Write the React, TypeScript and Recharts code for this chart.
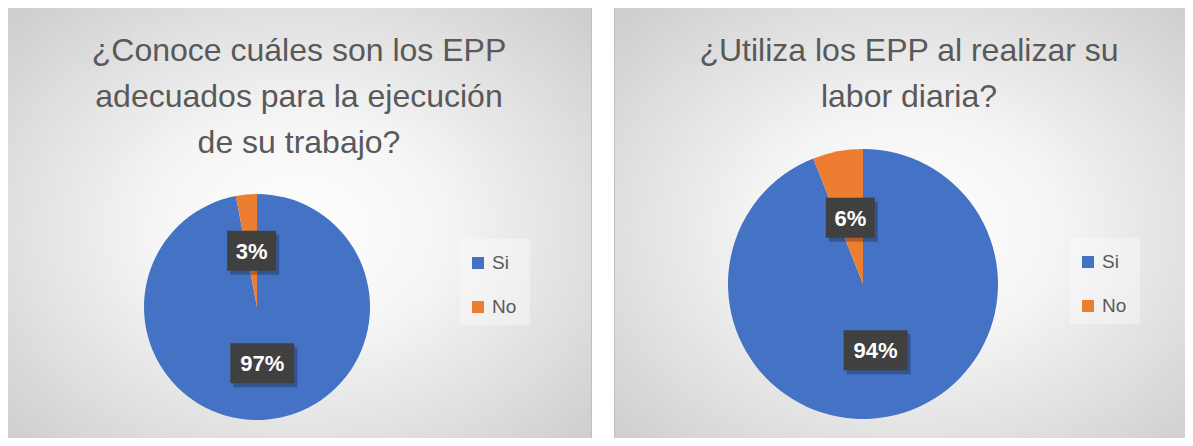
import { PieChart, Pie, Cell, Legend } from "recharts";

const categories = ["Si", "No"];
const conoceValues = [97, 3];
const utilizaValues = [94, 6];
const colors = ["#4472C4", "#ED7D31"];

const conoceTitle = ["¿Conoce cuáles son los EPP", "adecuados para la ejecución", "de su trabajo?"];
const utilizaTitle = ["¿Utiliza los EPP al realizar su", "labor diaria?"];

const RAD = Math.PI / 180;
const font = "Liberation Sans, Arial, sans-serif";

function renderLabel(props: any) {
    const { cx, cy, midAngle, outerRadius, value } = props;
    const r = outerRadius * 0.5;
    const x = cx + r * Math.cos(-midAngle * RAD);
    const y = cy + r * Math.sin(-midAngle * RAD);
    const txt = value + "%";
    const w = txt.length > 2 ? 64 : 49;
    const h = 40;
    return (
        <g>
            <rect x={x - w / 2 + 3} y={y - h / 2 + 4} width={w} height={h} fill="rgba(0,0,0,0.25)" />
            <rect x={x - w / 2} y={y - h / 2} width={w} height={h} fill="#404040" />
            <text x={x} y={y + 8} textAnchor="middle" fill="#ffffff"
                style={{ fontFamily: font, fontSize: 22, fontWeight: 700 }}>
                {txt}
            </text>
        </g>
    );
}

function LegendBox() {
    return (
        <div style={{ width: 70, height: 86, background: "rgba(255,255,255,0.35)", fontFamily: font, fontSize: 19, color: "#595959", position: "relative" }}>
            {categories.map((c, i) => (
                <div key={c} style={{ position: "absolute", left: 12, top: 13 + i * 44, display: "flex", alignItems: "center" }}>
                    <span style={{ display: "inline-block", width: 12, height: 12, background: colors[i], marginRight: 8 }} />
                    <span>{c}</span>
                </div>
            ))}
        </div>
    );
}

function PiePanel(props: any) {
    const data = categories.map((c, i) => ({ name: c, value: props.values[i] }));
    return (
        <div style={{
            position: "absolute", left: props.left, top: 4, width: props.width, height: 450,
            boxSizing: "border-box", border: "1px solid #bfbfbf",
            background: "radial-gradient(ellipse at 50% 50%, #ffffff 0%, #f5f5f5 35%, #dcdcdc 75%, #cccccc 100%)",
            overflow: "hidden",
        }}>
            <div style={{
                position: "absolute", left: 0, width: "100%", top: 22, textAlign: "center",
                fontFamily: font, fontSize: 32, lineHeight: "46px", color: "#595959",
            }}>
                {props.title.map((t: string) => <div key={t}>{t}</div>)}
            </div>
            <PieChart width={props.width} height={450} margin={{ top: 0, right: 0, bottom: 0, left: 0 }}
                style={{ position: "absolute", left: 0, top: 0 }}>
                <Pie data={data} dataKey="value" nameKey="name" cx={props.cx} cy={props.cy} outerRadius={props.r}
                    startAngle={90} endAngle={-270} stroke="none" labelLine={false} label={renderLabel}
                    isAnimationActive={false}>
                    {data.map((d, i) => <Cell key={d.name} fill={colors[i]} />)}
                </Pie>
                <Legend content={() => <LegendBox />}
                    wrapperStyle={{ position: "absolute", left: props.legendX, top: props.legendY, width: 70 }} />
            </PieChart>
        </div>
    );
}

export default function App() {
    return (
        <div style={{ position: "relative", width: 1193, height: 446, margin: -8, overflow: "hidden", background: "#ffffff" }}>
            <PiePanel left={6} width={586} title={conoceTitle} values={conoceValues}
                cx={250} cy={302} r={113} legendX={453} legendY={234} />
            <PiePanel left={614} width={590} title={utilizaTitle} values={utilizaValues}
                cx={248} cy={279} r={135} legendX={455} legendY={233} />
        </div>
    );
}
